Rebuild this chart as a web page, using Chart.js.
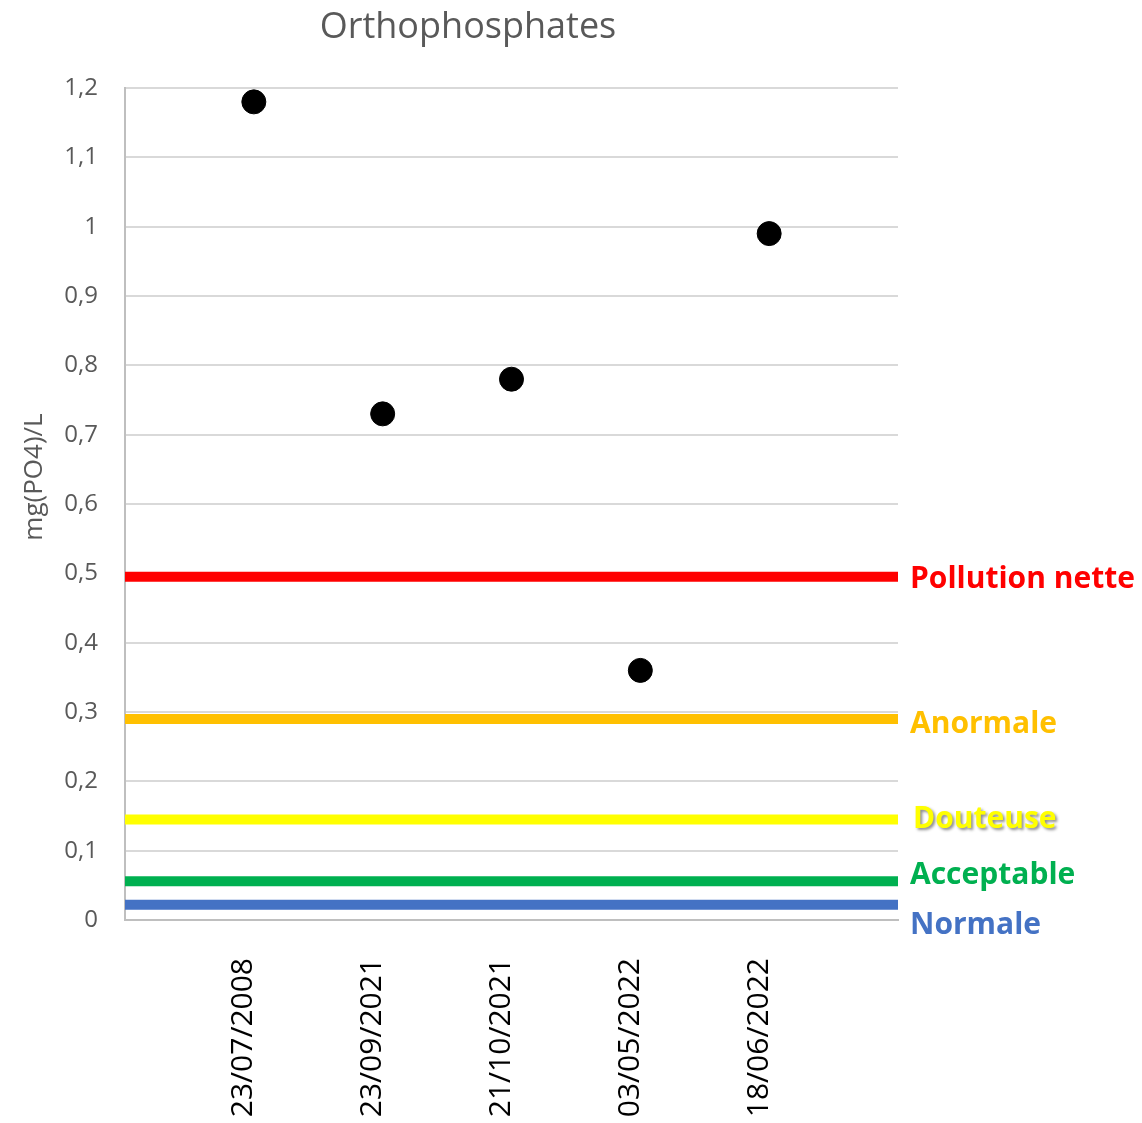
<!DOCTYPE html>
<html>
<head>
<meta charset="utf-8">
<script src="https://cdn.jsdelivr.net/npm/chart.js@4/dist/chart.umd.min.js"></script>
<style>
  html, body { margin: 0; padding: 0; background: #ffffff; }
  #wrap { width: 1142px; height: 1123px; }
</style>
</head>
<body>
<div id="wrap"><canvas id="chart" width="1142" height="1123"></canvas></div>
<script>
// Sampling dates and measured orthophosphate concentrations, mg(PO4)/L
const sampleDates = ['23/07/2008', '23/09/2021', '21/10/2021', '03/05/2022', '18/06/2022'];
const samplePositions = [1, 2, 3, 4, 5];
const orthophosphates = [1.18, 0.73, 0.78, 0.36, 0.99];

// Water quality classes and their threshold levels
const classNames = ['Pollution nette', 'Anormale', 'Douteuse', 'Acceptable', 'Normale'];
const classThresholds = [0.495, 0.29, 0.145, 0.056, 0.022];
const classColors = ['#FF0000', '#FFC000', '#FFFF00', '#00B050', '#4472C4'];

// Axis ranges
const xRange = [0, 6];
const yRange = [0, 1.2];
const yStep = 0.1;

const FONT = "'Open Sans', 'Liberation Sans', sans-serif";
const GREY_TEXT = '#595959';

// Label placement next to each threshold line (pixel nudges)
const classLabelStyle = [
  { dx: 12, dy: 0, shadow: false },
  { dx: 12, dy: 3, shadow: false },
  { dx: 15, dy: -2, shadow: true },
  { dx: 12, dy: -8, shadow: false },
  { dx: 12, dy: 19, shadow: false }
];

const thresholdDatasets = classNames.map((name, i) => ({
  type: 'line',
  label: name,
  data: [{ x: xRange[0], y: classThresholds[i] }, { x: xRange[1], y: classThresholds[i] }],
  borderColor: classColors[i],
  backgroundColor: classColors[i],
  borderWidth: 10,
  borderCapStyle: 'butt',
  pointRadius: 0,
  pointHoverRadius: 0,
  fill: false,
  clip: false,
  order: 2
}));

const measureDataset = {
  type: 'scatter',
  label: 'Orthophosphates',
  data: samplePositions.map((x, i) => ({ x: x, y: orthophosphates[i] })),
  backgroundColor: '#000000',
  borderColor: '#000000',
  pointRadius: 12,
  pointHoverRadius: 12,
  showLine: false,
  order: 1
};

// Title, vertical axis title and class labels drawn as canvas text
const annotations = {
  id: 'annotations',
  afterDraw(chart) {
    const { ctx, chartArea, scales } = chart;
    ctx.save();
    // Chart title
    ctx.fillStyle = GREY_TEXT;
    ctx.font = `36px ${FONT}`;
    ctx.textAlign = 'center';
    ctx.textBaseline = 'alphabetic';
    ctx.fillText('Orthophosphates', 468, 38);

    // Vertical axis title
    ctx.save();
    ctx.translate(42, 477);
    ctx.rotate(-Math.PI / 2);
    ctx.font = `26px ${FONT}`;
    ctx.textAlign = 'center';
    ctx.fillText('mg(PO4)/L', 0, 0);
    ctx.restore();

    // Class names beside their lines
    ctx.font = `bold 30px ${FONT}`;
    ctx.textAlign = 'left';
    classNames.forEach((name, i) => {
      const st = classLabelStyle[i];
      const y = scales.y.getPixelForValue(classThresholds[i]) + st.dy;
      ctx.save();
      if (st.shadow) {
        ctx.shadowColor = 'rgba(0,0,0,0.45)';
        ctx.shadowBlur = 3;
        ctx.shadowOffsetX = 2;
        ctx.shadowOffsetY = 2;
      }
      ctx.fillStyle = classColors[i];
      ctx.fillText(name, chartArea.right + st.dx, y + 10.7);
      ctx.restore();
    });
    ctx.restore();
  }
};

new Chart(document.getElementById('chart'), {
  data: { datasets: [...thresholdDatasets, measureDataset] },
  options: {
    responsive: false,
    animation: false,
    devicePixelRatio: 1,
    layout: { padding: { top: 88, left: 0, right: 244, bottom: 0 } },
    plugins: {
      legend: { display: false },
      title: { display: false },
      tooltip: { enabled: false }
    },
    scales: {
      x: {
        type: 'linear',
        min: xRange[0],
        max: xRange[1],
        offset: false,
        grid: { display: false, drawTicks: false },
        border: { display: true, color: '#BFBFBF', width: 2 },
        afterBuildTicks(scale) {
          scale.ticks = samplePositions.map(v => ({ value: v }));
        },
        afterFit(scale) { scale.height = 203; },
        ticks: {
          autoSkip: false,
          minRotation: 90,
          maxRotation: 90,
          padding: 38,
          labelOffset: -10,
          color: '#000000',
          font: { family: FONT, size: 30 },
          callback(value) {
            const idx = samplePositions.indexOf(value);
            return idx >= 0 ? sampleDates[idx] : '';
          }
        }
      },
      y: {
        type: 'linear',
        min: yRange[0],
        max: yRange[1],
        grid: { color: '#D9D9D9', lineWidth: 2, drawTicks: false },
        border: { display: true, color: '#BFBFBF', width: 2 },
        afterFit(scale) { scale.width = 125; },
        ticks: {
          stepSize: yStep,
          padding: 27,
          color: GREY_TEXT,
          font: { family: FONT, size: 24 },
          callback(value) {
            return String(Math.round(value * 10) / 10).replace('.', ',');
          }
        }
      }
    }
  },
  plugins: [annotations]
});
</script>
</body>
</html>
